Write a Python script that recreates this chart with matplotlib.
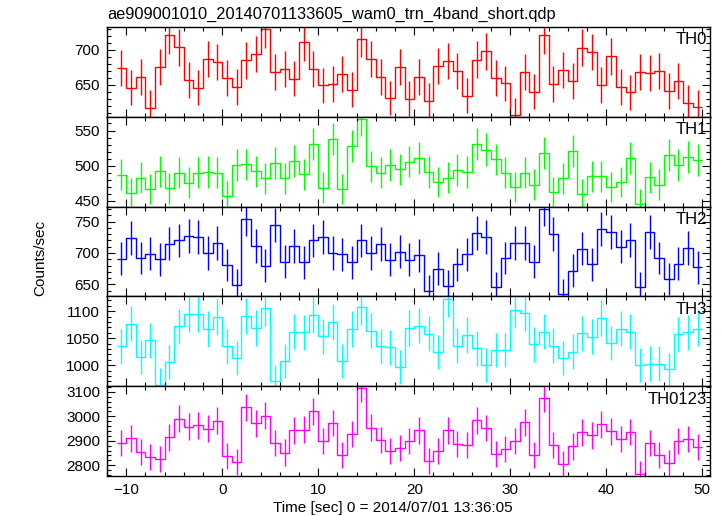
import numpy as np
import matplotlib
matplotlib.use("Agg")
import matplotlib.pyplot as plt
from matplotlib.ticker import MultipleLocator

plt.rcParams['font.family'] = ['Liberation Sans', 'DejaVu Sans']

## 1 s bins, edges from -11 to 50 sec
bin_edges = np.arange(-11.0, 50.5, 1.0)
bin_centers = bin_edges[:-1] + 0.5

## count rates (counts/sec)
th0 = [674, 646, 661, 617, 675, 721, 704, 657, 646, 687, 683, 660, 647, 685, 694, 730,
       669, 673, 659, 711, 673, 649, 651, 665, 643, 716, 687, 661, 631, 675, 630, 661,
       627, 677, 684, 670, 634, 686, 698, 660, 652, 607, 668, 640, 721, 651, 671, 655,
       703, 697, 650, 691, 647, 639, 669, 667, 670, 641, 655, 624, 618]
th1 = [487, 461, 483, 467, 492, 468, 490, 476, 490, 491, 490, 457, 501, 502, 492, 482,
       504, 482, 507, 488, 531, 469, 538, 467, 528, 566, 499, 490, 501, 495, 506, 511,
       491, 477, 483, 494, 491, 531, 523, 509, 490, 470, 490, 473, 518, 463, 482, 521,
       460, 485, 485, 470, 477, 511, 446, 484, 473, 515, 501, 512, 508]
th2 = [691, 724, 692, 699, 690, 715, 720, 727, 726, 700, 716, 681, 649, 754, 711, 680,
       744, 686, 711, 685, 720, 726, 700, 698, 685, 720, 700, 714, 689, 702, 689, 696,
       640, 675, 648, 682, 698, 732, 726, 645, 692, 716, 716, 686, 770, 730, 634, 672,
       707, 682, 738, 733, 710, 721, 645, 733, 692, 658, 683, 708, 677]
th3 = [1035, 1077, 1015, 1046, 964, 1006, 1072, 1095, 1095, 1067, 1089, 1035, 1013, 1091, 1069, 1106,
       970, 1008, 1062, 1061, 1093, 1054, 1080, 1008, 1067, 1108, 1064, 1035, 1033, 996, 1069, 1073,
       1058, 1024, 1123, 1036, 1056, 1031, 1000, 1028, 1028, 1102, 1097, 1039, 1062, 1036, 1013, 1025,
       1059, 1053, 1088, 1041, 1068, 1062, 1000, 1003, 1003, 992, 1057, 1061, 1068]
th0123 = [2892, 2910, 2855, 2832, 2825, 2914, 2990, 2958, 2963, 2950, 2982, 2836, 2813, 3037, 2971, 3003,
          2892, 2852, 2942, 2946, 3021, 2900, 2972, 2840, 2927, 3115, 2954, 2903, 2858, 2869, 2899, 2943,
          2818, 2858, 2943, 2886, 2882, 2984, 2952, 2846, 2866, 2900, 2976, 2840, 3074, 2884, 2805, 2877,
          2934, 2922, 2967, 2938, 2907, 2935, 2763, 2890, 2840, 2809, 2899, 2907, 2874]

bands = ["TH0", "TH1", "TH2", "TH3", "TH0123"]
rates = [th0, th1, th2, th3, th0123]
colors = ["#ff0000", "#00ff00", "#0000ff", "#00ffff", "#ff00ff"]
ylims = [(604, 733), (442, 569.5), (630.7, 774), (961, 1127.6), (2756, 3123)]
y_major = [50, 50, 50, 50, 100]
y_minor = [10, 10, 10, 10, 20]

fig = plt.figure(figsize=(7.24, 5.16), dpi=100)
left, right = 107 / 724, 710 / 724
top_px, bot_px = 27, 476
h = (bot_px - top_px) / 5 / 516

axes = []
for i, (name, vals, col) in enumerate(zip(bands, rates, colors)):
    y0 = 1 - (top_px / 516) - (i + 1) * h
    ax = fig.add_axes([left, y0, right - left, h])
    vals = np.array(vals, dtype=float)
    err = np.sqrt(vals)  # poisson error for 1 s bins
    ax.stairs(vals, bin_edges, baseline=None, color=col, linewidth=1.0)
    ax.vlines(bin_centers, vals - err, vals + err, color=col, linewidth=1.0)
    ax.set_xlim(-12.0, 50.8)
    ax.set_ylim(*ylims[i])
    ax.xaxis.set_major_locator(MultipleLocator(10))
    ax.xaxis.set_minor_locator(MultipleLocator(2))
    ax.yaxis.set_major_locator(MultipleLocator(y_major[i]))
    ax.yaxis.set_minor_locator(MultipleLocator(y_minor[i]))
    ax.tick_params(which='both', direction='in', top=True, right=True, width=0.8, labelsize=11)
    ax.tick_params(which='major', length=6, pad=5)
    ax.tick_params(which='minor', length=3)
    for sp in ax.spines.values():
        sp.set_linewidth(1.0)
    if i < 4:
        ax.tick_params(labelbottom=False)
    ax.text(0.995, 0.94, name, transform=ax.transAxes, ha='right', va='top', fontsize=12)
    axes.append(ax)

fig.text(393 / 724, 1 - 508 / 516, "Time [sec] 0 = 2014/07/01 13:36:05",
         ha='center', va='center', fontsize=11)
fig.text(0.055, 0.5, "Counts/sec", rotation=90, ha='center', va='center', fontsize=11)
fig.text(left, 1 - 19 / 516, "ae909001010_20140701133605_wam0_trn_4band_short.qdp",
         ha='left', va='baseline', fontsize=11.8)

plt.savefig("out.png", dpi=100)
